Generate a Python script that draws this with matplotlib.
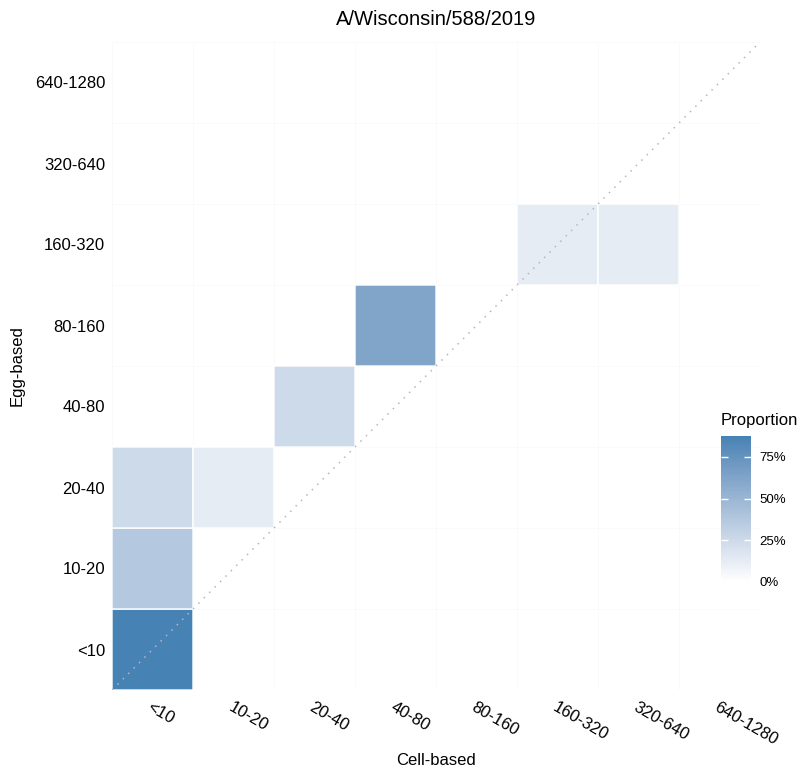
import numpy as np
import matplotlib
matplotlib.use("Agg")
import matplotlib.pyplot as plt
from matplotlib.colors import ListedColormap
from matplotlib.ticker import PercentFormatter

plt.rcParams['font.family'] = ['Liberation Sans', 'DejaVu Sans']

# ── Data ────────────────────────────────────────────────────────────────────
titre_bins = ["<10", "10-20", "20-40", "40-80", "80-160", "160-320", "320-640", "640-1280"]
cell_titre = ["<10", "<10", "<10", "10-20", "20-40", "40-80", "160-320", "320-640"]
egg_titre = ["<10", "10-20", "20-40", "20-40", "40-80", "80-160", "160-320", "160-320"]
proportion = [0.875, 0.375, 0.25, 0.125, 0.25, 0.625, 0.125, 0.125]
virus = "A/Wisconsin/588/2019"


# white -> steelblue gradient interpolated in CIELAB (like ggplot's scale_fill_gradient)
def srgb_to_lab(rgb):
    c = np.where(rgb <= 0.04045, rgb / 12.92, ((rgb + 0.055) / 1.055) ** 2.4)
    m = np.array([[0.4124, 0.3576, 0.1805],
                  [0.2126, 0.7152, 0.0722],
                  [0.0193, 0.1192, 0.9505]])
    xyz = m @ c / np.array([0.95047, 1.0, 1.08883])
    f = np.where(xyz > 0.008856, np.cbrt(xyz), 7.787 * xyz + 16 / 116)
    return np.array([116 * f[1] - 16, 500 * (f[0] - f[1]), 200 * (f[1] - f[2])])


def lab_to_srgb(lab):
    fy = (lab[0] + 16) / 116
    fx = fy + lab[1] / 500
    fz = fy - lab[2] / 200
    f = np.array([fx, fy, fz])
    xyz = np.where(f ** 3 > 0.008856, f ** 3, (f - 16 / 116) / 7.787)
    xyz = xyz * np.array([0.95047, 1.0, 1.08883])
    m = np.array([[3.2406, -1.5372, -0.4986],
                  [-0.9689, 1.8758, 0.0415],
                  [0.0557, -0.2040, 1.0570]])
    c = m @ xyz
    rgb = np.where(c <= 0.0031308, 12.92 * c, 1.055 * np.clip(c, 0, None) ** (1 / 2.4) - 0.055)
    return np.clip(rgb, 0, 1)


low = srgb_to_lab(np.array([1.0, 1.0, 1.0]))
high = srgb_to_lab(np.array([70, 130, 180]) / 255)
cmap = ListedColormap([lab_to_srgb(low + t * (high - low)) for t in np.linspace(0, 1, 256)])

# ── Grid ────────────────────────────────────────────────────────────────────
n = len(titre_bins)
grid = np.full((n, n), np.nan)
for cx, ey, p in zip(cell_titre, egg_titre, proportion):
    grid[titre_bins.index(ey), titre_bins.index(cx)] = p
grid = np.ma.masked_invalid(grid)

fig = plt.figure(figsize=(7.99, 7.69), dpi=100)
ax = fig.add_axes([112 / 799, 79 / 769, 648 / 799, 648 / 769])

edges = np.arange(n + 1) - 0.5
ax.set_xticks(edges, minor=True)
ax.set_yticks(edges, minor=True)
ax.grid(which='minor', color='#f8f8f8', linewidth=0.5)
ax.set_axisbelow(True)

mesh = ax.pcolor(edges, edges, grid, cmap=cmap, vmin=0, vmax=max(proportion),
                 edgecolors='white', linewidth=1.0)
ax.plot([-0.5, n - 0.5], [-0.5, n - 0.5], color='#bdb3bd', linewidth=1.1,
        linestyle=(0, (1, 4)), zorder=3)

ax.set_xlim(-0.5, n - 0.5)
ax.set_ylim(-0.5, n - 0.5)
ax.set_xticks(range(n))
ax.set_yticks(range(n))
ax.set_xticklabels(titre_bins, rotation=-30, ha='left', va='top', rotation_mode='anchor', fontsize=12)
ax.set_yticklabels(titre_bins, fontsize=12)
ax.tick_params(which='both', length=0)
ax.tick_params(axis='x', pad=7)
ax.tick_params(axis='y', pad=5)
for s in ax.spines.values():
    s.set_visible(False)

ax.set_xlabel("Cell-based", fontsize=12, labelpad=4)
ax.set_ylabel("Egg-based", fontsize=12, labelpad=7)
ax.set_title(virus, fontsize=14.5, pad=12)

# ── Colourbar ───────────────────────────────────────────────────────────────
cax = fig.add_axes([721 / 799, 187 / 769, 30 / 799, 146 / 769])
cb = fig.colorbar(mesh, cax=cax, ticks=[0, 0.25, 0.5, 0.75])
cb.outline.set_visible(False)
cax.yaxis.set_major_formatter(PercentFormatter(1.0, decimals=0))
cax.tick_params(which='both', left=True, right=True, direction='in', color='white',
                length=5, width=1, labelleft=False, labelright=True, labelsize=9.5, pad=6)
cax.minorticks_off()
fig.text(721 / 799, 1 - 421 / 769, "Proportion", fontsize=12, ha='left', va='center')

fig.savefig("out.png", dpi=100)
